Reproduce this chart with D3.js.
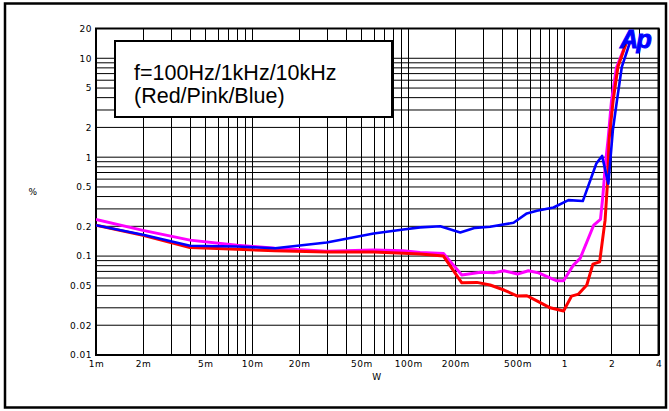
<!DOCTYPE html>
<html>
<head>
<meta charset="utf-8">
<script src="https://cdn.jsdelivr.net/npm/d3@7"></script>
<style>
  html, body { margin: 0; padding: 0; background: #fff; }
  svg { display: block; }
  .tick-label { font-family: "DejaVu Sans", sans-serif; font-size: 9px; letter-spacing: 0.5px; fill: #000; }
</style>
</head>
<body>
<svg id="chart" width="669" height="411"></svg>
<script>
// Axis ticks
const xTickValues = [0.001, 0.002, 0.005, 0.01, 0.02, 0.05, 0.1, 0.2, 0.5, 1, 2, 4];
const xTickLabels = ["1m", "2m", "5m", "10m", "20m", "50m", "100m", "200m", "500m", "1", "2", "4"];
const yTickValues = [0.01, 0.02, 0.05, 0.1, 0.2, 0.5, 1, 2, 5, 10, 20];
const yTickLabels = ["0.01", "0.02", "0.05", "0.1", "0.2", "0.5", "1", "2", "5", "10", "20"];

// THD+N (%) versus output power (W)
const redW = [0.001, 0.002, 0.004, 0.008, 0.014, 0.03, 0.06, 0.093, 0.119, 0.168, 0.22, 0.275, 0.334, 0.41, 0.5, 0.574, 0.666, 0.81, 0.986, 1.11, 1.23, 1.39, 1.52, 1.68, 1.82, 1.89, 1.93, 2.05, 2.2, 2.48];
const redPct = [0.205, 0.162, 0.122, 0.117, 0.113, 0.110, 0.110, 0.107, 0.105, 0.100, 0.0537, 0.0542, 0.051, 0.0454, 0.0394, 0.0397, 0.0353, 0.030, 0.0278, 0.0394, 0.0413, 0.051, 0.083, 0.0875, 0.231, 0.586, 1.49, 3.77, 8.2, 14.1];

const pinkW = [0.001, 0.002, 0.004, 0.008, 0.014, 0.03, 0.06, 0.093, 0.119, 0.168, 0.22, 0.29, 0.352, 0.41, 0.5, 0.587, 0.682, 0.894, 0.986, 1.14, 1.26, 1.54, 1.70, 1.76, 1.83, 1.9, 2.0, 2.15, 2.45];
const pinkPct = [0.235, 0.182, 0.145, 0.129, 0.12, 0.112, 0.115, 0.113, 0.109, 0.106, 0.0643, 0.0685, 0.0677, 0.0711, 0.0658, 0.0711, 0.0677, 0.0563, 0.0563, 0.081, 0.0948, 0.206, 0.235, 0.398, 0.864, 1.49, 3.7, 8.0, 13.5];

const blueW = [0.001, 0.002, 0.004, 0.008, 0.014, 0.03, 0.06, 0.093, 0.119, 0.16, 0.215, 0.268, 0.334, 0.472, 0.574, 0.666, 0.851, 1.06, 1.31, 1.6, 1.74, 1.91, 2.04, 2.17, 2.33, 2.61];
const bluePct = [0.205, 0.164, 0.127, 0.125, 0.12, 0.137, 0.169, 0.186, 0.195, 0.2, 0.173, 0.193, 0.198, 0.217, 0.27, 0.287, 0.31, 0.368, 0.36, 0.864, 1.03, 0.54, 1.87, 3.77, 8.2, 14.1];

const svg = d3.select("#chart");
const plot = { left: 96, right: 658.5, top: 28.5, bottom: 355 };

const x = d3.scaleLog().domain([0.001, 4]).range([plot.left, plot.right]);
const y = d3.scaleLog().domain([0.01, 20]).range([plot.bottom, plot.top]);

// Outer frame
svg.append("rect")
  .attr("x", 5).attr("y", 3.5).attr("width", 661).attr("height", 404)
  .attr("fill", "none").attr("stroke", "#000").attr("stroke-width", 2.5);

// Minor gridlines: every 1..9 step per decade
function decadeSteps(lo, hi) {
  const out = [];
  for (let e = Math.floor(Math.log10(lo)); e <= Math.ceil(Math.log10(hi)); e++) {
    for (let m = 1; m <= 9; m++) {
      const v = m * Math.pow(10, e);
      if (v >= lo * 0.9999 && v <= hi * 1.0001) out.push(v);
    }
  }
  return out;
}

const grid = svg.append("g");
grid.selectAll("line.v").data(decadeSteps(0.001, 4)).join("line")
  .attr("class", "v")
  .attr("x1", d => Math.round(x(d)) + 0.5).attr("x2", d => Math.round(x(d)) + 0.5)
  .attr("y1", plot.top).attr("y2", plot.bottom)
  .attr("stroke", "#000").attr("stroke-width", 1);
grid.selectAll("line.h").data(decadeSteps(0.01, 20)).join("line")
  .attr("class", "h")
  .attr("x1", plot.left).attr("x2", plot.right)
  .attr("y1", d => y(d)).attr("y2", d => y(d))
  .attr("stroke", "#000").attr("stroke-width", 1);

// Plot border
svg.append("rect")
  .attr("x", plot.left).attr("y", plot.top)
  .attr("width", plot.right - plot.left).attr("height", plot.bottom - plot.top)
  .attr("fill", "none").attr("stroke", "#000").attr("stroke-width", 2);

// Axes (labels only, ticks handled by the grid)
const xAxis = d3.axisBottom(x).tickValues(xTickValues)
  .tickFormat((d, i) => xTickLabels[i]).tickSize(0).tickPadding(6);
const gx = svg.append("g").attr("transform", `translate(0,${plot.bottom})`).call(xAxis);
gx.select(".domain").remove();
gx.selectAll("text").attr("class", "tick-label").attr("font-family", null).attr("font-size", null);

const yAxis = d3.axisLeft(y).tickValues(yTickValues)
  .tickFormat((d, i) => yTickLabels[i]).tickSize(0).tickPadding(4);
const gy = svg.append("g").attr("transform", `translate(${plot.left},0)`).call(yAxis);
gy.select(".domain").remove();
gy.selectAll("text").attr("class", "tick-label").attr("font-family", null).attr("font-size", null);

svg.append("text").attr("class", "tick-label")
  .attr("x", 33).attr("y", 195).attr("text-anchor", "middle").text("%");
svg.append("text").attr("class", "tick-label")
  .attr("x", 377).attr("y", 380).attr("text-anchor", "middle").text("W");

// Curves
svg.append("clipPath").attr("id", "plot-clip").append("rect")
  .attr("x", plot.left).attr("y", plot.top)
  .attr("width", plot.right - plot.left).attr("height", plot.bottom - plot.top);

const line = d3.line().x(d => x(d[0])).y(d => y(d[1]));
const series = [
  { w: pinkW, p: pinkPct, color: "#ff00ff", width: 3 },
  { w: redW, p: redPct, color: "#ff0000", width: 3 },
  { w: blueW, p: bluePct, color: "#0000ff", width: 2.6 }
];
const curves = svg.append("g").attr("clip-path", "url(#plot-clip)");
series.forEach(s => {
  curves.append("path")
    .datum(d3.zip(s.w, s.p))
    .attr("d", line)
    .attr("fill", "none")
    .attr("stroke", s.color)
    .attr("stroke-width", s.width)
    .attr("stroke-linejoin", "round");
});

// Note box
svg.append("rect")
  .attr("x", 115).attr("y", 41).attr("width", 277).attr("height", 76)
  .attr("fill", "#fff").attr("stroke", "#000").attr("stroke-width", 2);
const note = svg.append("text")
  .attr("font-family", "Liberation Sans, Arial, sans-serif")
  .attr("font-size", 21.5).attr("fill", "#000");
note.append("tspan").attr("x", 134).attr("y", 80).text("f=100Hz/1kHz/10kHz");
note.append("tspan").attr("x", 134).attr("y", 103).text("(Red/Pink/Blue)");

// Ap logo
svg.append("text")
  .attr("x", 620).attr("y", 48)
  .attr("font-family", "Liberation Sans, Arial, sans-serif")
  .attr("font-size", 25).attr("font-weight", "bold").attr("font-style", "italic")
  .attr("fill", "#0000ff").attr("stroke", "#0000ff").attr("stroke-width", 1)
  .attr("letter-spacing", -1.5)
  .text("Ap");
</script>
</body>
</html>
